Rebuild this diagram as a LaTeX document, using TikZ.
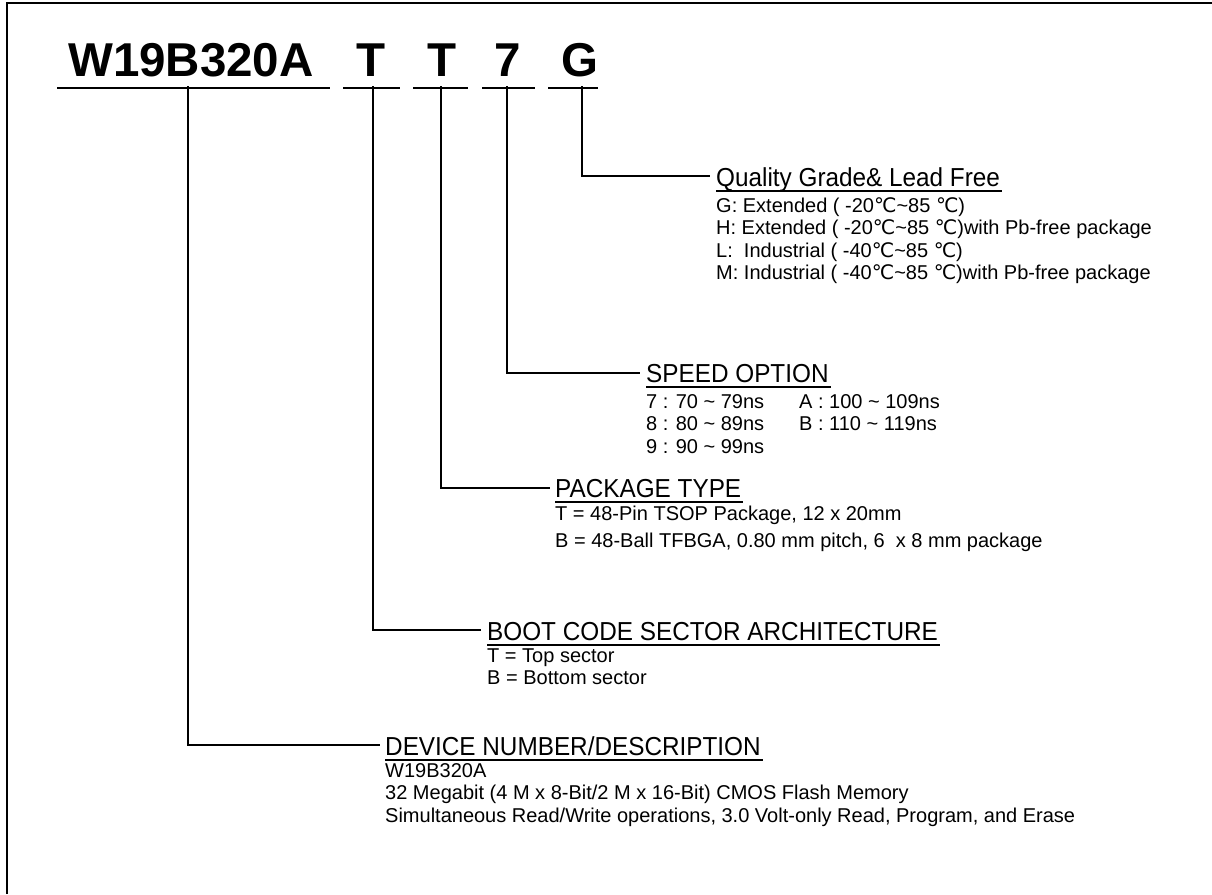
\documentclass[tikz,border=0pt]{standalone}
\usepackage{fontspec}
\setmainfont{Liberation Sans}
\newfontfamily\dejavu{DejaVu Sans}
\newfontfamily\headfont[FakeStretch=0.935]{Liberation Sans}
\newcommand{\degc}{{\dejavu ℃}}
\newcommand{\tld}{\textasciitilde}
\begin{document}
\begin{tikzpicture}[x=1pt,y=-1pt,
  titletext/.style={font=\fontsize{47.5}{50}\selectfont\bfseries, inner sep=0pt, anchor=base},
  headtext/.style={font=\headfont\fontsize{26}{28}\selectfont, inner sep=0pt, anchor=base west},
  bodytext/.style={font=\fontsize{20}{22.5}\selectfont, inner sep=0pt, anchor=base west},
  conn/.style={line width=2.8pt, line join=miter},
  uline/.style={line width=2pt},
  frame/.style={line width=2.6pt}]
\useasboundingbox (0,0) rectangle (1212,894);
\draw[frame] (7,894) -- (7,3) -- (1212,3);

% title
\node[titletext, anchor=base west] (tW) at (68,76) {W19B320A};
\node[titletext] (tT1) at (371,76) {T};
\node[titletext] (tT2) at (442,76) {T};
\node[titletext] (t7) at (508,76) {7};
\node[titletext] (tG) at (580,76) {G};
\draw[uline] (57,88) -- (330,88);
\draw[uline] (343,88) -- (400,88);
\draw[uline] (413,88) -- (468,88);
\draw[uline] (482,88) -- (535,88);
\draw[uline] (548,88) -- (598,88);

\coordinate (sW) at (188,86);
\coordinate (sT1) at (373,86);
\coordinate (sT2) at (441,86);
\coordinate (s7) at (507,86);
\coordinate (sG) at (582,86);

% Quality grade
\node[headtext] (hQ) at (716,186) {Quality Grade\& Lead Free};
\coordinate (cQ) at (710,176);
\draw[uline] ([yshift=-5pt]hQ.base west) -- ([yshift=-5pt,xshift=2pt]hQ.base east);
\node[bodytext] (q1) at (716,212) {G: Extended ( -20\degc\tld85 \degc)};
\node[bodytext] (q2) at (716,234.5) {H: Extended ( -20\degc\tld85 \degc)with Pb-free package};
\node[bodytext] (q3) at (716,257) {L:\ \ Industrial ( -40\degc\tld85 \degc)};
\node[bodytext] (q4) at (716,279.5) {M: Industrial ( -40\degc\tld85 \degc)with Pb-free package};
\draw[conn] (sG) |- (cQ);

% Speed option
\node[headtext] (hS) at (646,382) {SPEED OPTION};
\coordinate (cS) at (640,373);
\draw[uline] ([yshift=-5pt]hS.base west) -- ([yshift=-5pt,xshift=2pt]hS.base east);
\node[bodytext] (s1) at (646,408) {7 : 70 \tld{} 79ns};
\node[bodytext] (s2) at (646,430.5) {8 : 80 \tld{} 89ns};
\node[bodytext] (s3) at (646,453) {9 : 90 \tld{} 99ns};
\node[bodytext] (sA) at (799,408) {A : 100 \tld{} 109ns};
\node[bodytext] (sB) at (799,430.5) {B : 110 \tld{} 119ns};
\draw[conn] (s7) |- (cS);

% Package type
\node[headtext] (hP) at (555,497) {PACKAGE TYPE};
\coordinate (cP) at (550,488);
\draw[uline] ([yshift=-5pt]hP.base west) -- ([yshift=-5pt,xshift=2pt]hP.base east);
\node[bodytext] (p1) at (555,520) {T = 48-Pin TSOP Package, 12 x 20mm};
\node[bodytext] (p2) at (555,547) {B = 48-Ball TFBGA, 0.80 mm pitch, 6\ \ x 8 mm package};
\draw[conn] (sT2) |- (cP);

% Boot code
\node[headtext] (hB) at (487,640) {BOOT CODE SECTOR ARCHITECTURE};
\coordinate (cB) at (481,630);
\draw[uline] ([yshift=-5pt]hB.base west) -- ([yshift=-5pt,xshift=2pt]hB.base east);
\node[bodytext] (b1) at (487,662) {T = Top sector};
\node[bodytext] (b2) at (487,684.5) {B = Bottom sector};
\draw[conn] (sT1) |- (cB);

% Device number
\node[headtext] (hD) at (385,755) {DEVICE NUMBER/DESCRIPTION};
\coordinate (cD) at (380,745);
\draw[uline] ([yshift=-5pt]hD.base west) -- ([yshift=-5pt,xshift=2pt]hD.base east);
\node[bodytext] (d1) at (385,777) {W19B320A};
\node[bodytext] (d2) at (385,799.5) {32 Megabit (4 M x 8-Bit/2 M x 16-Bit) CMOS Flash Memory};
\node[bodytext] (d3) at (385,822) {Simultaneous Read/Write operations, 3.0 Volt-only Read, Program, and Erase};
\draw[conn] (sW) |- (cD);
\end{tikzpicture}
\end{document}
